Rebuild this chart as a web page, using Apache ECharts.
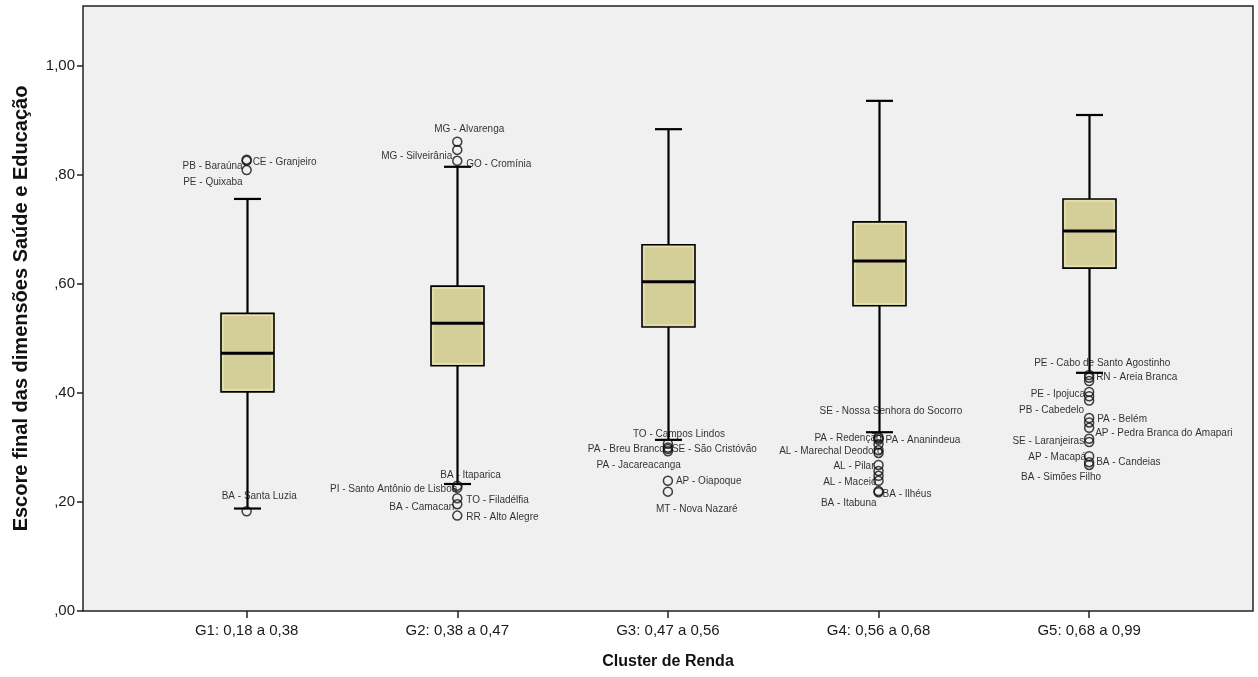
<!DOCTYPE html>
<html>
<head>
<meta charset="utf-8">
<script src="https://cdn.jsdelivr.net/npm/echarts@6/dist/echarts.min.js"></script>
<style>
html,body{margin:0;padding:0;background:#fff;}
#chart{width:1258px;height:677px;}
</style>
</head>
<body>
<div id="chart"></div>
<script>
// ---------- data ----------
const categories = ['G1: 0,18 a 0,38', 'G2: 0,38 a 0,47', 'G3: 0,47 a 0,56', 'G4: 0,56 a 0,68', 'G5: 0,68 a 0,99'];
const whiskerLow  = [0.188, 0.233, 0.314, 0.328, 0.437];
const q1          = [0.402, 0.450, 0.521, 0.560, 0.629];
const median      = [0.473, 0.528, 0.604, 0.642, 0.697];
const q3          = [0.546, 0.596, 0.672, 0.714, 0.756];
const whiskerHigh = [0.756, 0.815, 0.884, 0.936, 0.910];

const yTicks = [0, 0.2, 0.4, 0.6, 0.8, 1.0];

const outlierGroup = [
  0, 0, 0, 0,
  1, 1, 1, 1, 1, 1, 1, 1,
  2, 2, 2, 2, 2, 2,
  3, 3, 3, 3, 3, 3, 3, 3, 3, 3, 3, 3,
  4, 4, 4, 4, 4, 4, 4, 4, 4, 4, 4, 4, 4, 4
];
const outlierValue = [
  0.828, 0.826, 0.809, 0.183,
  0.861, 0.846, 0.826, 0.230, 0.226, 0.207, 0.196, 0.175,
  0.307, 0.300, 0.297, 0.293, 0.239, 0.219,
  0.319, 0.317, 0.314, 0.295, 0.268, 0.239, 0.220, 0.218, 0.306, 0.290, 0.257, 0.248,
  0.433, 0.428, 0.402, 0.394, 0.354, 0.336, 0.316, 0.284, 0.273, 0.268, 0.422, 0.386, 0.346, 0.310
];
const outlierName = [
  'CE - Granjeiro', 'PB - Baraúna', 'PE - Quixaba', 'BA - Santa Luzia',
  'MG - Alvarenga', 'MG - Silveirânia', 'GO - Cromínia', 'BA - Itaparica', 'PI - Santo Antônio de Lisboa', 'TO - Filadélfia', 'BA - Camacan', 'RR - Alto Alegre',
  'TO - Campos Lindos', 'PA - Breu Branco', 'SE - São Cristóvão', 'PA - Jacareacanga', 'AP - Oiapoque', 'MT - Nova Nazaré',
  'SE - Nossa Senhora do Socorro', 'PA - Redenção', 'PA - Ananindeua', 'AL - Marechal Deodoro', 'AL - Pilar', 'AL - Maceió', 'BA - Ilhéus', 'BA - Itabuna', '', '', '', '',
  'PE - Cabo de Santo Agostinho', 'RN - Areia Branca', 'PE - Ipojuca', 'PB - Cabedelo', 'PA - Belém', 'AP - Pedra Branca do Amapari', 'SE - Laranjeiras', 'AP - Macapá', 'BA - Candeias', 'BA - Simões Filho', '', '', '', ''
];

// ---------- label placement (style only) ----------
const labelPlace = [
  [6, 2.5, 'left'], [-4, 5, 'right'], [-4, 12, 'right'], [-25, -15, 'left'],
  [-23, -12, 'left'], [-5, 6.5, 'right'], [9, 3, 'left'], [-17, -10.5, 'left'], [0, 1, 'right'], [9, 2, 'left'], [-3, 3, 'right'], [9, 1.5, 'left'],
  [-35, -9.6, 'left'], [-3, 1.5, 'right'], [4, 0, 'left'], [13, 13.5, 'right'], [8, 0.7, 'left'], [-12, 17.5, 'left'],
  [-59, -26, 'left'], [3, 0, 'right'], [7, 0, 'left'], [4, 1, 'right'], [-4, 1, 'right'], [-2, 2, 'right'], [4, 3, 'left'], [-2, 11, 'right'], [0, 0, 'left'], [0, 0, 'left'], [0, 0, 'left'], [0, 0, 'left'],
  [-55, -12, 'left'], [7, 0, 'left'], [-4, 2, 'right'], [-5, 14, 'right'], [8, 1, 'left'], [6, 5, 'left'], [-5, 2, 'right'], [-3, 1, 'right'], [7, 0, 'left'], [12, 12, 'right'], [0, 0, 'left'], [0, 0, 'left'], [0, 0, 'left'], [0, 0, 'left']
];

// ---------- build ----------
const boxData = categories.map((c, i) => [i, whiskerLow[i], q1[i], median[i], q3[i], whiskerHigh[i]]);
const outlierData = outlierValue.map((v, i) => ({
  name: outlierName[i],
  value: [outlierGroup[i], v],
  label: { align: labelPlace[i][2], offset: [labelPlace[i][0], labelPlace[i][1]] }
}));

const FONT = "'Liberation Sans', Arial, sans-serif";
const BOX_W = 53, CAP_W = 27;

function fmtY(v) {
  let s = v.toFixed(2).replace('.', ',');
  if (s.startsWith('0')) s = s.slice(1);
  return s;
}

const chart = echarts.init(document.getElementById('chart'), null, { renderer: 'canvas' });
chart.setOption({
  backgroundColor: '#ffffff',
  animation: false,
  grid: {
    left: 83, top: 6, right: 5, bottom: 66,
    show: true, backgroundColor: '#f0f0f0', borderColor: '#222', borderWidth: 1.5
  },
  xAxis: {
    type: 'value', min: -0.777, max: 4.778,
    axisLine: { show: false, onZero: false },
    splitLine: { show: false },
    axisTick: { show: true, length: 7, lineStyle: { color: '#222', width: 1.5 }, customValues: categories.map((c, i) => i) },
    axisLabel: {
      customValues: categories.map((c, i) => i),
      formatter: v => categories[Math.round(v)],
      fontFamily: FONT, fontSize: 15, color: '#1a1a1a', margin: 12
    },
    name: 'Cluster de Renda', nameLocation: 'middle', nameGap: 43,
    nameTextStyle: { fontFamily: FONT, fontSize: 16, fontWeight: 'bold', color: '#111' }
  },
  yAxis: {
    type: 'value', min: 0, max: 1.11,
    axisLine: { show: false, onZero: false },
    splitLine: { show: false },
    axisTick: { show: true, length: 6, lineStyle: { color: '#222', width: 1.5 }, customValues: yTicks },
    axisLabel: { customValues: yTicks, formatter: fmtY, fontFamily: FONT, fontSize: 15, color: '#1a1a1a', margin: 8 },
    name: 'Escore final das dimensões Saúde e Educação', nameLocation: 'middle', nameGap: 52, nameRotate: 90,
    nameTextStyle: { fontFamily: FONT, fontSize: 20, fontWeight: 'bold', color: '#111' }
  },
  series: [
    {
      type: 'custom',
      data: boxData,
      encode: { x: 0, y: [1, 2, 3, 4, 5] },
      renderItem: function (params, api) {
        const x = api.value(0);
        const pMin = api.coord([x, api.value(1)]);
        const pQ1 = api.coord([x, api.value(2)]);
        const pMed = api.coord([x, api.value(3)]);
        const pQ3 = api.coord([x, api.value(4)]);
        const pMax = api.coord([x, api.value(5)]);
        const cx = Math.round(pMin[0]) + 0.5;
        const line = (x1, y1, x2, y2, w) => ({ type: 'line', shape: { x1, y1, x2, y2 }, style: { stroke: '#000', lineWidth: w } });
        return {
          type: 'group',
          children: [
            line(cx, pMax[1], cx, pMin[1], 2.2),
            line(cx - CAP_W / 2, pMax[1], cx + CAP_W / 2, pMax[1], 2.2),
            line(cx - CAP_W / 2, pMin[1], cx + CAP_W / 2, pMin[1], 2.2),
            { type: 'rect', shape: { x: cx - BOX_W / 2, y: pQ3[1], width: BOX_W, height: pQ1[1] - pQ3[1] },
              style: { fill: '#d4cf99', stroke: '#000', lineWidth: 1.6 } },
            { type: 'rect', shape: { x: cx - BOX_W / 2 + 2, y: pQ3[1] + 2, width: BOX_W - 4, height: pQ1[1] - pQ3[1] - 4 },
              style: { fill: 'none', stroke: '#efeab8', lineWidth: 1 } },
            line(cx - BOX_W / 2, pMed[1], cx + BOX_W / 2, pMed[1], 3)
          ]
        };
      },
      z: 2
    },
    {
      type: 'scatter',
      data: outlierData,
      symbol: 'circle',
      symbolSize: 9,
      itemStyle: { color: 'rgba(0,0,0,0)', borderColor: '#111', borderWidth: 1.5 },
      label: {
        show: true, position: 'inside', verticalAlign: 'middle',
        formatter: p => p.name,
        fontFamily: FONT, fontSize: 10, color: '#000'
      },
      emphasis: { disabled: true },
      z: 3
    }
  ]
});
</script>
</body>
</html>
